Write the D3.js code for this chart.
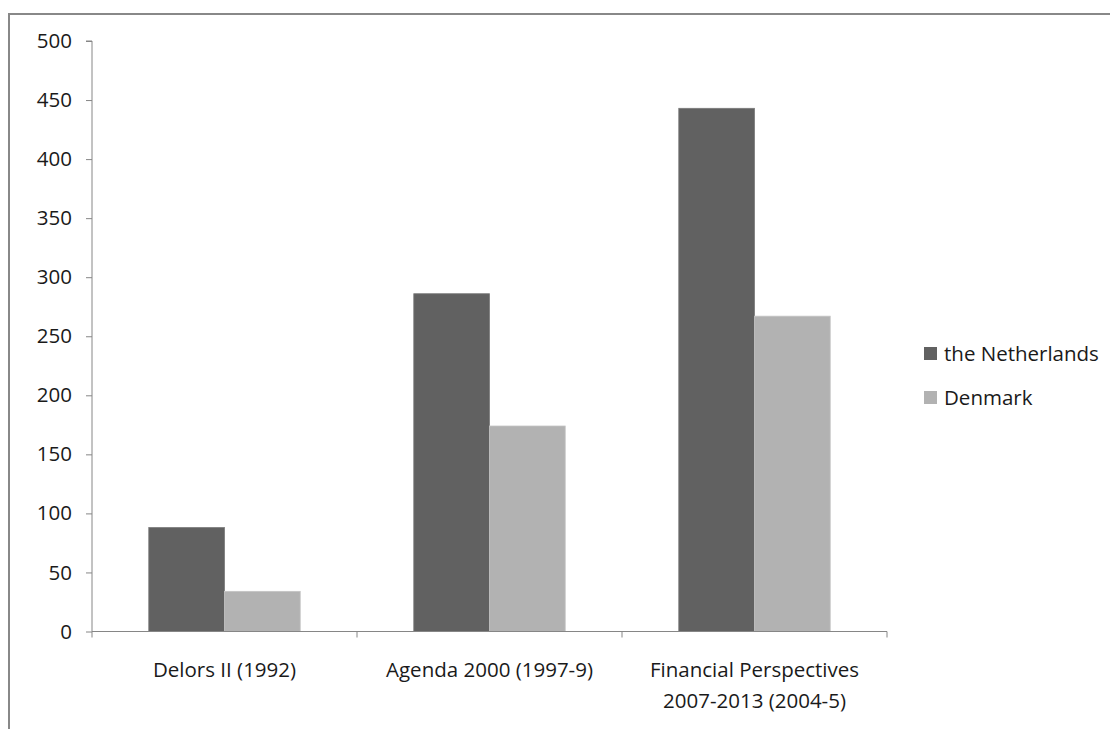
<!DOCTYPE html>
<html>
<head>
<meta charset="utf-8">
<script src="https://cdn.jsdelivr.net/npm/d3@7"></script>
<style>
  html, body { margin: 0; padding: 0; background: #fff; }
  svg { display: block; }
  text { font-family: "Open Sans", sans-serif; fill: #1a1a1a; }
</style>
</head>
<body>
<svg id="chart" width="1110" height="729"></svg>
<script>
// ---- data ----
const categories = [
  ["Delors II (1992)"],
  ["Agenda 2000 (1997-9)"],
  ["Financial Perspectives", "2007-2013 (2004-5)"]
];
const seriesNames = ["the Netherlands", "Denmark"];
const netherlands = [88, 286, 443];
const denmark = [34, 174, 267];
const yTicks = [0, 50, 100, 150, 200, 250, 300, 350, 400, 450, 500];
const seriesColors = ["#616161", "#b2b2b2"];

// ---- layout ----
const W = 1110, H = 729;
const plot = { left: 92, right: 887, top: 41, bottom: 631.5 };
const svg = d3.select("#chart");

// outer border (chart area frame)
svg.append("rect")
  .attr("x", 9).attr("y", 14)
  .attr("width", W + 20).attr("height", H + 20)
  .attr("fill", "none").attr("stroke", "#888").attr("stroke-width", 2);

const catIdx = categories.map((d, i) => i);
const x0 = d3.scaleBand().domain(catIdx).range([plot.left, plot.right]).paddingInner(0).paddingOuter(0);
// gap width 150% -> each side 0.75 bar widths
const barW = x0.bandwidth() / 3.5;
const x1 = d3.scaleBand().domain([0, 1])
  .range([0.75 * barW, 2.75 * barW]).padding(0);
const y = d3.scaleLinear().domain([0, 500]).range([plot.bottom, plot.top]);

const seriesData = [netherlands, denmark];

// bars
seriesData.forEach((vals, s) => {
  svg.append("g").selectAll("rect")
    .data(vals)
    .join("rect")
    .attr("x", (d, i) => x0(i) + x1(s))
    .attr("y", d => y(d))
    .attr("width", x1.bandwidth())
    .attr("height", d => y(0) - y(d))
    .attr("fill", seriesColors[s])
    .attr("stroke", s === 0 ? "#7a7a7a" : "#c4c4c4")
    .attr("stroke-width", 0.8);
});

// y axis
const yAxis = d3.axisLeft(y).tickValues(yTicks).tickSize(6).tickPadding(14);
const gy = svg.append("g").attr("transform", `translate(${plot.left},0)`).call(yAxis);
gy.select(".domain").attr("stroke", "#868686").attr("d", `M-6,${plot.top}H0V${plot.bottom}`);
gy.selectAll(".tick line").attr("stroke", "#868686");
gy.selectAll(".tick text")
  .style("font-family", '"Open Sans", sans-serif')
  .style("font-size", "20.5px").attr("fill", "#1a1a1a");

// x axis
const gx = svg.append("g").attr("transform", `translate(0,${plot.bottom})`);
gx.append("line").attr("x1", plot.left).attr("x2", plot.right)
  .attr("y1", 0).attr("y2", 0).attr("stroke", "#868686");
const edges = catIdx.map(i => x0(i)).concat([x0(catIdx.length - 1) + x0.bandwidth()]);
gx.selectAll("line.tk").data(edges).join("line").attr("class", "tk")
  .attr("x1", d => d).attr("x2", d => d).attr("y1", 0).attr("y2", 6)
  .attr("stroke", "#868686");

const labels = gx.selectAll("text.cat").data(categories).join("text")
  .attr("class", "cat")
  .attr("text-anchor", "middle")
  .style("font-size", "20.5px")
  .attr("transform", (d, i) => `translate(${x0(i) + x0.bandwidth() / 2},45.5)`);
labels.selectAll("tspan").data(d => d).join("tspan")
  .attr("x", 0).attr("dy", (d, j) => j === 0 ? 0 : 31)
  .text(d => d);

// legend
const legend = svg.append("g").attr("transform", "translate(924,347)");
seriesNames.forEach((name, s) => {
  const g = legend.append("g").attr("transform", `translate(0,${s * 44})`);
  g.append("rect").attr("width", 13).attr("height", 13).attr("fill", seriesColors[s]);
  g.append("text").attr("x", 20).attr("y", 13.5).style("font-size", "20.5px").text(name);
});
</script>
</body>
</html>
